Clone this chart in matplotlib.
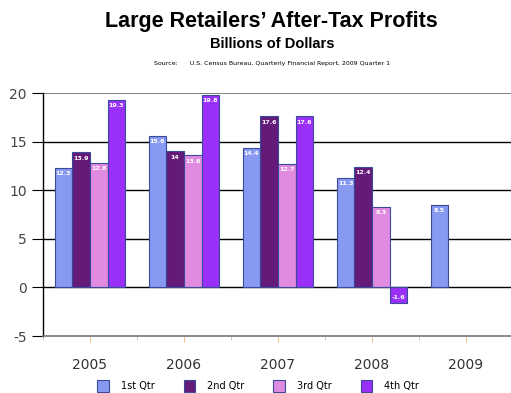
import numpy as np
import matplotlib.pyplot as plt

plt.rcParams["axes.unicode_minus"] = False

years = ["2005", "2006", "2007", "2008", "2009"]
quarters = ["1st Qtr", "2nd Qtr", "3rd Qtr", "4th Qtr"]
q1 = [12.3, 15.6, 14.4, 11.3, 8.5]
q2 = [13.9, 14.0, 17.6, 12.4, None]
q3 = [12.8, 13.6, 12.7, 8.3, None]
q4 = [19.3, 19.8, 17.6, -1.6, None]
colors = ["#8799F0", "#641A78", "#E08AE0", "#9A30F8"]

fig = plt.figure(figsize=(5.11, 3.93), dpi=100)
ax = fig.add_axes([0.084, 0.145, 0.92, 0.618])

x = np.arange(len(years))
w = 0.1875
for i, vals in enumerate([q1, q2, q3, q4]):
    xs = [x[j] + (i - 1.5) * w for j in range(len(years)) if vals[j] is not None]
    vs = [v for v in vals if v is not None]
    ax.bar(xs, vs, w, color=colors[i], edgecolor="#3A4A9A", linewidth=0.8,
           label=quarters[i], zorder=3)
    for xx, v in zip(xs, vs):
        txt = "%g" % v
        if v >= 0:
            ax.text(xx, v - 0.35, txt, ha="center", va="top", color="white",
                    fontsize=4.5, fontweight="bold", zorder=4)
        else:
            ax.text(xx, v + 0.35, txt, ha="center", va="bottom", color="white",
                    fontsize=4.5, fontweight="bold", zorder=4)

ax.set_xlim(-0.5, 4.5)
ax.set_ylim(-5, 20)
ax.set_yticks([-5, 0, 5, 10, 15, 20])
ax.set_xticks(x)
ax.set_xticks(np.arange(-0.5, 5, 1), minor=True)
ax.set_xticklabels(years, fontsize=10, color="#333333")
ax.tick_params(axis="y", labelsize=10, labelcolor="#444444", length=8, width=0.8)
ax.tick_params(axis="x", which="major", length=4, color="#F0C090", pad=12)
ax.tick_params(axis="x", which="minor", length=3, color="#BBBBBB")
for yv in [0, 5, 10, 15]:
    ax.axhline(yv, color="black", linewidth=1, zorder=1)
ax.axhline(20, color="#666666", linewidth=1.2, zorder=1)
for s in ["top", "right"]:
    ax.spines[s].set_visible(False)
ax.spines["bottom"].set_color("#777777")
ax.spines["bottom"].set_linewidth(1.2)
ax.spines["left"].set_linewidth(1)

fig.text(0.532, 0.945, "Large Retailers\u2019 After-Tax Profits", ha="center", va="center",
         fontsize=15.5, fontweight="bold", family="Liberation Sans")
fig.text(0.532, 0.888, "Billions of Dollars", ha="center", va="center",
         fontsize=10.5, fontweight="bold", family="Liberation Sans")
fig.text(0.532, 0.838, "Source:      U.S. Census Bureau, Quarterly Financial Report, 2009 Quarter 1",
         ha="center", va="center", fontsize=4.5)

fig.legend(loc="lower center", bbox_to_anchor=(0.505, -0.02), ncol=4, frameon=False,
           fontsize=7, handlelength=1.2, handleheight=1.6, handletextpad=1.2,
           columnspacing=3.0)

fig.savefig("out.png", dpi=100)
